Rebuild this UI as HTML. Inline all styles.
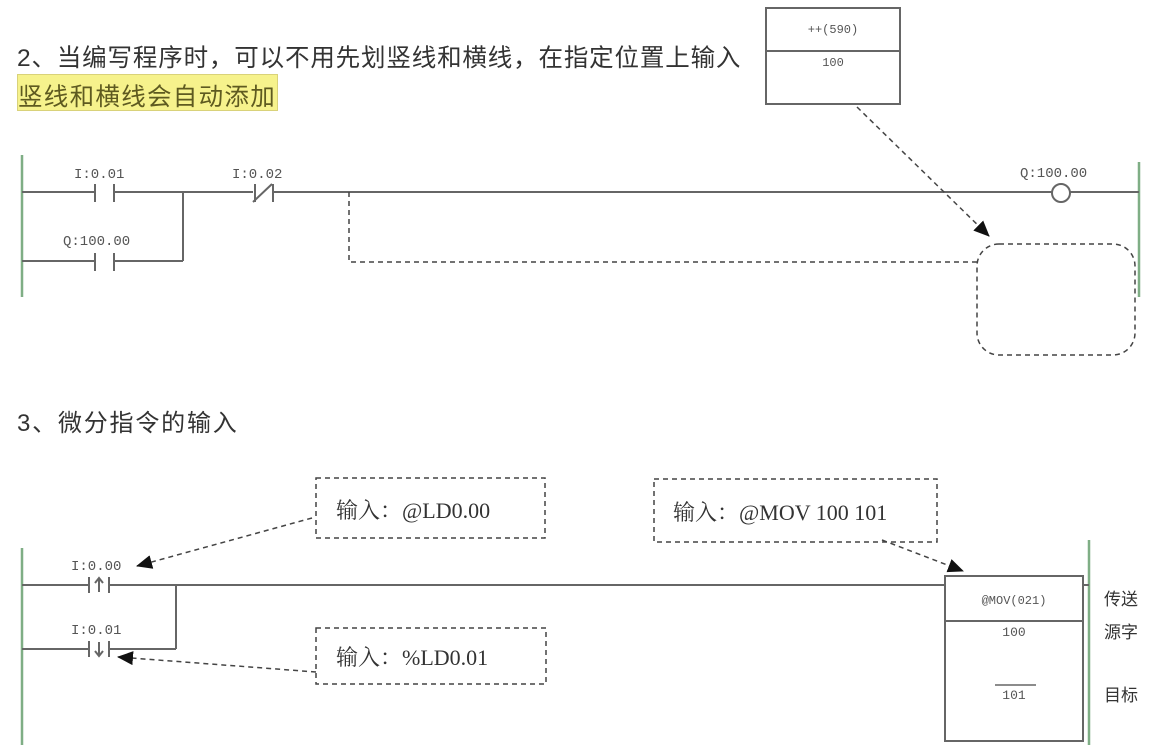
<!DOCTYPE html>
<html><head><meta charset="utf-8"><style>
html,body{margin:0;padding:0;background:#fff;}
body{width:1156px;height:747px;position:relative;overflow:hidden;}
.t{position:absolute;font-family:"Liberation Sans","Noto Sans CJK SC",sans-serif;color:#333;white-space:nowrap;}
</style></head><body>
<div class="t" style="left:17px;top:39px;font-size:24.5px;letter-spacing:0.85px;">2、当编写程序时，可以不用先划竖线和横线，在指定位置上输入</div>
<div style="position:absolute;left:17px;top:74px;width:261px;height:37px;background:#f6f28c;border:1px solid #d9d27a;box-sizing:border-box;"></div>
<div class="t" style="left:18px;top:78px;font-size:24.5px;letter-spacing:1.3px;color:#5e5a20;">竖线和横线会自动添加</div>
<div class="t" style="left:17px;top:403px;font-size:24px;letter-spacing:1.8px;">3、微分指令的输入</div>
<svg width="1156" height="747" style="position:absolute;left:0;top:0" xmlns="http://www.w3.org/2000/svg">
<defs>
<marker id="b" markerWidth="16" markerHeight="14" refX="15" refY="7" orient="auto" markerUnits="userSpaceOnUse"><path d="M0,0 L16,7 L0,14 z" fill="#111"/></marker></defs>
<g font-family="Liberation Mono, monospace" fill="#555" font-size="14">
<line x1="22" y1="155" x2="22" y2="297" stroke="#7fae85" stroke-width="2.5"/>
<line x1="1139" y1="162" x2="1139" y2="297" stroke="#7fae85" stroke-width="2.5"/>
<g stroke="#666" stroke-width="2" fill="none">
<line x1="22" y1="192" x2="95" y2="192"/><line x1="114" y1="192" x2="253" y2="192"/>
<line x1="273" y1="192" x2="1052" y2="192"/><line x1="1070" y1="192" x2="1139" y2="192"/>
<line x1="95" y1="184" x2="95" y2="202"/><line x1="114" y1="184" x2="114" y2="202"/>
<line x1="22" y1="261" x2="95" y2="261"/><line x1="114" y1="261" x2="183" y2="261"/>
<line x1="95" y1="253" x2="95" y2="271"/><line x1="114" y1="253" x2="114" y2="271"/>
<line x1="183" y1="192" x2="183" y2="261"/>
<line x1="255" y1="184" x2="255" y2="202"/><line x1="273" y1="184" x2="273" y2="202"/>
<line x1="253" y1="202" x2="272" y2="184"/>
<circle cx="1061" cy="193" r="9" fill="#fff"/>
</g>
<text x="74" y="178">I:0.01</text><text x="232" y="178">I:0.02</text>
<text x="63" y="245">Q:100.00</text><text x="1020" y="177">Q:100.00</text>
<g stroke="#444" stroke-width="1.5" fill="none" stroke-dasharray="5,4">
<path d="M349,192 V262 H977"/>
<rect x="977" y="244" width="158" height="111" rx="22"/>
<line x1="857" y1="107" x2="989" y2="236" marker-end="url(#b)"/>
</g>
<rect x="766" y="8" width="134" height="96" fill="#fff" stroke="#666" stroke-width="2"/>
<line x1="766" y1="51" x2="900" y2="51" stroke="#666" stroke-width="2"/>
<text x="833" y="33" text-anchor="middle" font-size="12">++(590)</text>
<text x="833" y="66" text-anchor="middle" font-size="12">100</text>
<line x1="22" y1="548" x2="22" y2="745" stroke="#7fae85" stroke-width="2.5"/>
<line x1="1089" y1="540" x2="1089" y2="745" stroke="#7fae85" stroke-width="2.5"/>
<g stroke="#666" stroke-width="2" fill="none">
<line x1="22" y1="585" x2="89" y2="585"/><line x1="109" y1="585" x2="945" y2="585"/>
<line x1="89" y1="577" x2="89" y2="593"/><line x1="109" y1="577" x2="109" y2="593"/>
<line x1="99" y1="578" x2="99" y2="592"/><path d="M95,583 L99,578 L103,583"/>
<line x1="22" y1="649" x2="89" y2="649"/><line x1="109" y1="649" x2="176" y2="649"/>
<line x1="89" y1="641" x2="89" y2="657"/><line x1="109" y1="641" x2="109" y2="657"/>
<line x1="99" y1="642" x2="99" y2="656"/><path d="M95,651 L99,656 L103,651"/>
<line x1="176" y1="585" x2="176" y2="649"/>
<rect x="945" y="576" width="138" height="165" fill="#fff"/>
<line x1="945" y1="621" x2="1083" y2="621"/>
<line x1="995" y1="685" x2="1036" y2="685" stroke-width="1.5"/>
<line x1="1083" y1="585" x2="1089" y2="585"/>
</g>
<text x="71" y="570">I:0.00</text><text x="71" y="634">I:0.01</text>
<text x="1014" y="604" text-anchor="middle" font-size="12">@MOV(021)</text>
<text x="1014" y="636" text-anchor="middle" font-size="13">100</text>
<text x="1014" y="699" text-anchor="middle" font-size="13">101</text>
<g stroke="#444" stroke-width="1.5" fill="none" stroke-dasharray="5,4">
<rect x="316" y="478" width="229" height="60"/>
<rect x="654" y="479" width="283" height="63"/>
<rect x="316" y="628" width="230" height="56"/>
<line x1="312" y1="518" x2="137" y2="566" marker-end="url(#b)"/>
<line x1="882" y1="540" x2="963" y2="571" marker-end="url(#b)"/>
<line x1="316" y1="672" x2="118" y2="657" marker-end="url(#b)"/>
</g>
</g>
<g font-family="Liberation Serif, Noto Serif CJK SC, serif" font-size="22" fill="#333">
<text x="336" y="518">输入：@LD0.00</text>
<text x="673" y="520">输入：@MOV 100 101</text>
<text x="336" y="665">输入：%LD0.01</text>
</g>
<g font-family="Liberation Sans, Noto Sans CJK SC, sans-serif" font-size="17" fill="#333">
<text x="1104" y="605">传送</text><text x="1104" y="638">源字</text><text x="1104" y="701">目标</text>
</g>
</svg>
</body></html>
